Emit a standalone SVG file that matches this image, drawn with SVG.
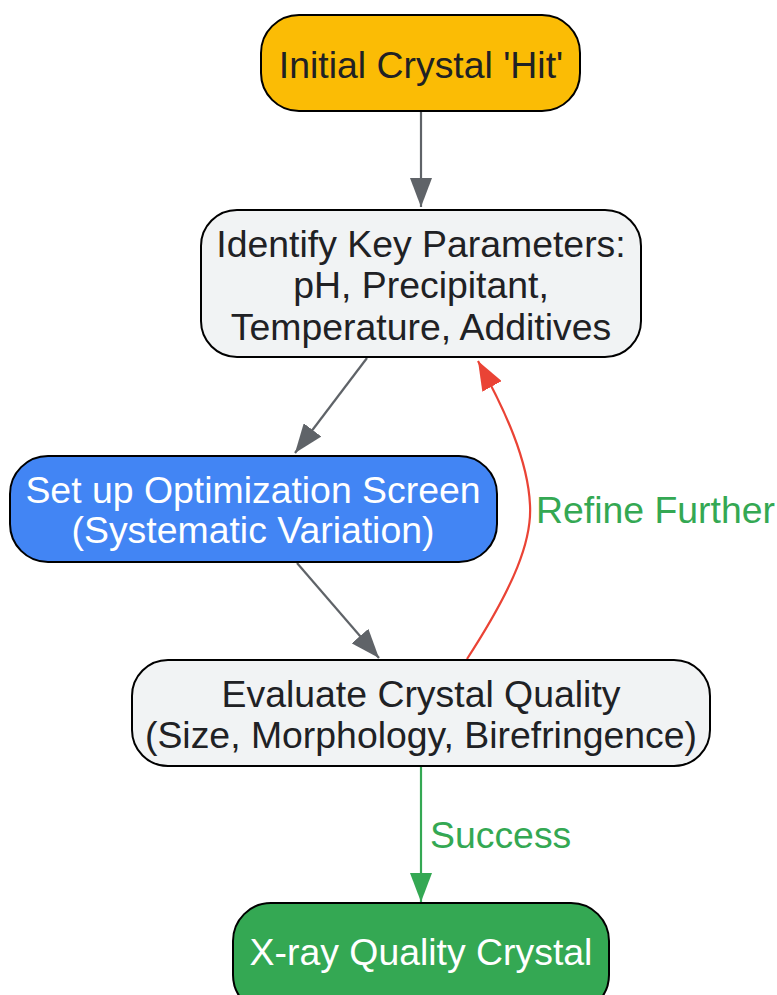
<svg xmlns="http://www.w3.org/2000/svg" width="777" height="995" viewBox="0 0 777 995">
<style>
.node rect{stroke:#000;stroke-width:2}
text{font-family:"Liberation Sans",Arial,sans-serif;font-size:37.4px;text-anchor:middle}
.dark{fill:#202124}
.light{fill:#fff}
.lbl{fill:#34A853;text-anchor:start}
.e{fill:none;stroke-width:2.2}
</style>
<defs>
<marker id="ag" markerUnits="userSpaceOnUse" markerWidth="29" markerHeight="22" refX="29" refY="11" orient="auto"><path d="M0,0L29,11L0,22z" fill="#5F6368"/></marker>
<marker id="ar" markerUnits="userSpaceOnUse" markerWidth="29" markerHeight="22" refX="29" refY="11" orient="auto"><path d="M0,0L29,11L0,22z" fill="#EA4335"/></marker>
<marker id="agr" markerUnits="userSpaceOnUse" markerWidth="29" markerHeight="22" refX="29" refY="11" orient="auto"><path d="M0,0L29,11L0,22z" fill="#34A853"/></marker>
</defs>
<g id="connectors">
<path class="e" d="M421,111L421,207" stroke="#5F6368" marker-end="url(#ag)"/>
<path class="e" d="M367,358L295,453" stroke="#5F6368" marker-end="url(#ag)"/>
<path class="e" d="M297,563L379,658" stroke="#5F6368" marker-end="url(#ag)"/>
<path class="e" d="M467,659C515,585 532,540 530,505C528,460 505,410 478,361" stroke="#EA4335" marker-end="url(#ar)"/>
<path class="e" d="M421,766L421,902" stroke="#34A853" marker-end="url(#agr)"/>
<text class="lbl" x="536" y="523">Refine Further</text>
<text class="lbl" x="430" y="848">Success</text>
</g>
<g id="n1" class="node"><rect x="261" y="15" width="319" height="96" rx="38" fill="#FBBC05"/><text class="dark" x="421" y="78">Initial Crystal 'Hit'</text></g>
<g id="n2" class="node"><rect x="201" y="210" width="440" height="147" rx="36" fill="#F1F3F4"/><text class="dark" x="421" y="257">Identify Key Parameters:</text><text class="dark" x="421" y="298">pH, Precipitant,</text><text class="dark" x="421" y="340">Temperature, Additives</text></g>
<g id="n3" class="node"><rect x="10" y="456" width="487" height="106" rx="38" fill="#4285F4"/><text class="light" x="253" y="503">Set up Optimization Screen</text><text class="light" x="253" y="543">(Systematic Variation)</text></g>
<g id="n4" class="node"><rect x="132" y="660" width="578" height="106" rx="36" fill="#F1F3F4"/><text class="dark" x="421" y="707">Evaluate Crystal Quality</text><text class="dark" x="421" y="748">(Size, Morphology, Birefringence)</text></g>
<g id="n5" class="node"><rect x="233" y="903" width="376" height="110" rx="38" fill="#34A853"/><text class="light" x="421" y="965">X-ray Quality Crystal</text></g>
</svg>
